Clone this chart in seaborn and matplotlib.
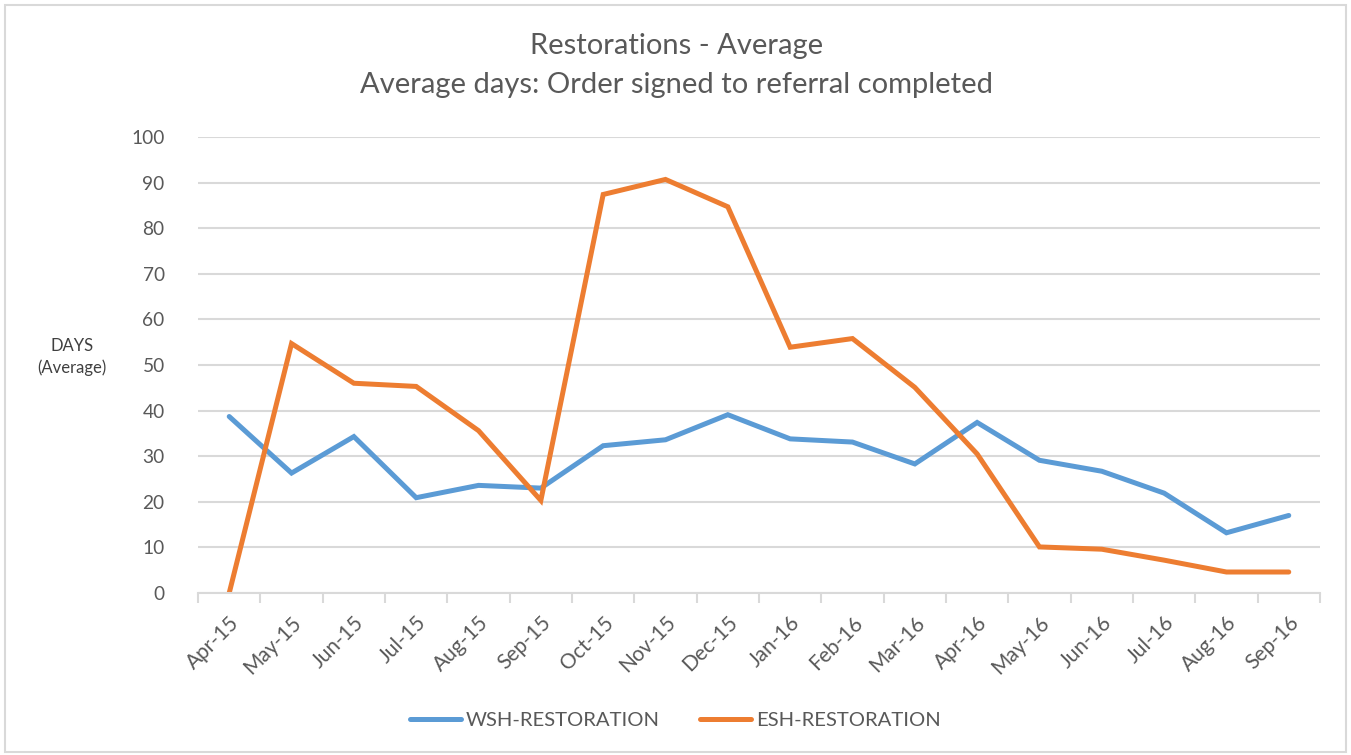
import pandas as pd
import numpy as np
import matplotlib
matplotlib.use("Agg")
import matplotlib.pyplot as plt
import seaborn as sns
from matplotlib.patches import Rectangle

months = ['Apr-15', 'May-15', 'Jun-15', 'Jul-15', 'Aug-15', 'Sep-15', 'Oct-15', 'Nov-15', 'Dec-15',
          'Jan-16', 'Feb-16', 'Mar-16', 'Apr-16', 'May-16', 'Jun-16', 'Jul-16', 'Aug-16', 'Sep-16']
wsh = [38.7, 26.3, 34.3, 20.9, 23.6, 23.0, 32.3, 33.6, 39.1, 33.8, 33.1, 28.3, 37.4, 29.1, 26.7, 21.9, 13.2, 17.0]
esh = [0.0, 54.7, 46.0, 45.3, 35.6, 20.3, 87.4, 90.7, 84.7, 53.9, 55.8, 45.1, 30.5, 10.1, 9.6, 7.2, 4.6, 4.6]
series_names = ['WSH-RESTORATION', 'ESH-RESTORATION']
colors = ['#5B9BD5', '#ED7D31']

df = pd.DataFrame({
    'pos': list(range(len(months))) * 2,
    'days': wsh + esh,
    'series': [series_names[0]] * len(months) + [series_names[1]] * len(months),
})

sns.set_theme(style='white')
plt.rcParams['font.family'] = ['Lato', 'DejaVu Sans']
grey = '#595959'

fig = plt.figure(figsize=(13.51, 7.55), dpi=100)
ax = fig.add_axes([0.1466, 0.2146, 0.977 - 0.1466, 0.8185 - 0.2146])

# chart border
fig.patches.append(Rectangle((0.004, 0.004), 0.992, 0.99, transform=fig.transFigure,
                             fill=False, edgecolor='#d9d9d9', linewidth=1.5))

sns.lineplot(data=df, x='pos', y='days', hue='series', palette=colors, linewidth=3.6,
             ax=ax, legend=False, sort=False)
for ln in ax.lines:
    ln.set_solid_capstyle('round')
    ln.set_solid_joinstyle('miter')

ax.set_xlim(-0.5, len(months) - 0.5)
ax.set_ylim(0, 100)
ax.set_yticks(np.arange(0, 101, 10))
ax.yaxis.grid(True, color='#d9d9d9', linewidth=1.5)
ax.set_axisbelow(True)
for s in ['top', 'right', 'left']:
    ax.spines[s].set_visible(False)
ax.spines['bottom'].set_color('#d9d9d9')
ax.spines['bottom'].set_linewidth(1.5)

ax.set_xticks(np.arange(len(months)))
ax.set_xticklabels(months, rotation=45, ha='right', rotation_mode='anchor', color=grey, fontsize=15)
ax.set_xticks(np.arange(-0.5, len(months)), minor=True)
ax.tick_params(axis='x', which='major', length=0, pad=14)
ax.tick_params(axis='x', which='minor', length=7, width=1.5, color='#d9d9d9', bottom=True)
ax.tick_params(axis='y', length=0, labelsize=13.8, labelcolor=grey, pad=24)
ax.set_xlabel('')
ax.set_ylabel('')

fig.text(72 / 1351, 1 - 357 / 755, 'DAYS\n(Average)', ha='center', va='center',
         fontsize=12, color='#404040', linespacing=1.45)

fig.text(677 / 1351, 1 - 46 / 755, 'Restorations - Average', ha='center', va='center',
         fontsize=21, color=grey)
fig.text(677 / 1351, 1 - 85 / 755, 'Average days: Order signed to referral completed', ha='center',
         va='center', fontsize=21, color=grey)

handles = [plt.Line2D([], [], color=c, linewidth=3.6, solid_capstyle='round') for c in colors]
fig.legend(handles, series_names, loc='center', bbox_to_anchor=(0.5, 1 - 720 / 755), ncol=2,
           frameon=False, fontsize=14.6, labelcolor=grey, handlelength=2.5, handletextpad=0.25,
           columnspacing=2.0)

fig.savefig('out.png', dpi=100, facecolor='white')
